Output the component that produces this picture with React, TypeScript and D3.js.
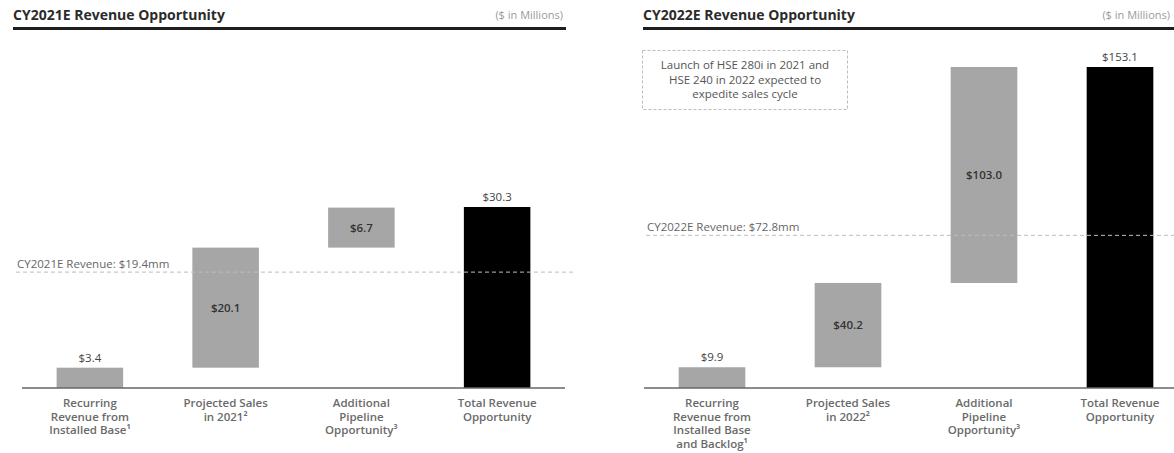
import React from "react";
import * as d3 from "d3";

// ---- Data ----
const categories2021: string[][] = [
  ["Recurring", "Revenue from", "Installed Base¹"],
  ["Projected Sales", "in 2021²"],
  ["Additional", "Pipeline", "Opportunity³"],
  ["Total Revenue", "Opportunity"],
];
const steps2021: number[] = [3.4, 20.1, 6.7];
const total2021 = 30.3;
const revenue2021 = 19.4;

const categories2022: string[][] = [
  ["Recurring", "Revenue from", "Installed Base", "and Backlog¹"],
  ["Projected Sales", "in 2022²"],
  ["Additional", "Pipeline", "Opportunity³"],
  ["Total Revenue", "Opportunity"],
];
const steps2022: number[] = [9.9, 40.2, 103.0];
const total2022 = 153.1;
const revenue2022 = 72.8;

const titles = ["CY2021E Revenue Opportunity", "CY2022E Revenue Opportunity"];
const unitsLabel = "($ in Millions)";
const noteLines = ["Launch of HSE 280i in 2021 and", "HSE 240 in 2022 expected to", "expedite sales cycle"];

const FONT = "'Open Sans', 'DejaVu Sans', sans-serif";
const fmt = (v: number) => "$" + d3.format(".1f")(v);

type PanelProps = {
  title: string;
  titleX: number;
  ruleX1: number;
  ruleX2: number;
  unitsX: number;
  axisX1: number;
  axisX2: number;
  bandRange: [number, number];
  topY: number;
  categories: string[][];
  steps: number[];
  total: number;
  revenue: number;
  revenueLabel: string;
  lineX1: number;
  lineX2: number;
  labelX: number;
};

function Panel(p: PanelProps) {
  const baseY = 388;
  const y = d3.scaleLinear().domain([0, p.total]).range([baseY, p.topY]);
  const x = d3
    .scaleBand<number>()
    .domain(d3.range(p.categories.length))
    .range(p.bandRange)
    .paddingInner(0.51)
    .paddingOuter(0.255);

  let cum = 0;
  const bars = p.steps.map((v, i) => {
    const start = cum;
    cum += v;
    return { i, v, y0: start, y1: start + v, total: false };
  });
  bars.push({ i: p.steps.length, v: p.total, y0: 0, y1: p.total, total: true });

  return (
    <g>
      <text x={p.titleX} y={20} fontFamily={FONT} fontWeight={700} fontSize={14} fill="#2b2b2b">
        {p.title}
      </text>
      <text x={p.unitsX} y={19} textAnchor="end" fontFamily={FONT} fontSize={11} fill="#9a9a9a">
        {unitsLabel}
      </text>
      <line x1={p.ruleX1} x2={p.ruleX2} y1={28.5} y2={28.5} stroke="#1e1e1e" strokeWidth={3} />

      {bars.map((b) => {
        const bx = x(b.i)!;
        const bw = x.bandwidth();
        const top = y(b.y1);
        const bot = y(b.y0);
        const labelAbove = b.i === 0 || b.total;
        return (
          <g key={b.i}>
            <rect x={bx} y={top} width={bw} height={bot - top} fill={b.total ? "#000" : "#a6a6a6"} />
            {labelAbove ? (
              <text
                x={bx + bw / 2}
                y={top - 6}
                textAnchor="middle"
                fontFamily={FONT}
                fontSize={11.5}
                fill="#444"
              >
                {fmt(b.v)}
              </text>
            ) : (
              <text
                x={bx + bw / 2}
                y={(top + bot) / 2 + 4}
                textAnchor="middle"
                fontFamily={FONT}
                fontSize={11.5}
                fontWeight={600}
                fill="#333"
              >
                {fmt(b.v)}
              </text>
            )}
          </g>
        );
      })}

      <line
        x1={p.lineX1}
        x2={p.lineX2}
        y1={y(p.revenue)}
        y2={y(p.revenue)}
        stroke="#bdbdbd"
        strokeWidth={1}
        strokeDasharray="4,3"
      />
      <text x={p.labelX} y={y(p.revenue) - 4} fontFamily={FONT} fontSize={11.5} fill="#666">
        {p.revenueLabel}
      </text>

      <line x1={p.axisX1} x2={p.axisX2} y1={baseY} y2={baseY} stroke="#666" strokeWidth={1.5} />

      {p.categories.map((lines, i) => (
        <text
          key={i}
          textAnchor="middle"
          fontFamily={FONT}
          fontSize={11.5}
          fontWeight={600}
          fill="#6a6a6a"
        >
          {lines.map((ln, j) => (
            <tspan key={j} x={x(i)! + x.bandwidth() / 2} y={407 + j * 13.5}>
              {ln}
            </tspan>
          ))}
        </text>
      ))}
    </g>
  );
}

export default function App() {
  return (
    <svg
      width={1174}
      height={453}
      style={{ position: "absolute", left: 0, top: 0, background: "#fff" }}
    >
      <rect x={0} y={0} width={1174} height={453} fill="#fff" />
      <Panel
        title={titles[0]}
        titleX={13}
        ruleX1={13}
        ruleX2={566}
        unitsX={563}
        axisX1={22}
        axisX2={565}
        bandRange={[22, 565]}
        topY={207}
        categories={categories2021}
        steps={steps2021}
        total={total2021}
        revenue={revenue2021}
        revenueLabel={`CY2021E Revenue: ${fmt(revenue2021)}mm`}
        lineX1={16}
        lineX2={573}
        labelX={17}
      />
      <Panel
        title={titles[1]}
        titleX={643}
        ruleX1={643}
        ruleX2={1174}
        unitsX={1170}
        axisX1={644}
        axisX2={1174}
        bandRange={[644, 1188]}
        topY={67}
        categories={categories2022}
        steps={steps2022}
        total={total2022}
        revenue={revenue2022}
        revenueLabel={`CY2022E Revenue: ${fmt(revenue2022)}mm`}
        lineX1={646}
        lineX2={1174}
        labelX={647}
      />
      <rect
        x={642.5}
        y={50.5}
        width={205}
        height={59}
        fill="none"
        stroke="#bdbdbd"
        strokeWidth={1}
        strokeDasharray="3,2"
      />
      <text textAnchor="middle" fontFamily={FONT} fontSize={11.5} fill="#555">
        {noteLines.map((ln, j) => (
          <tspan key={j} x={745} y={69 + j * 14.5}>
            {ln}
          </tspan>
        ))}
      </text>
    </svg>
  );
}
